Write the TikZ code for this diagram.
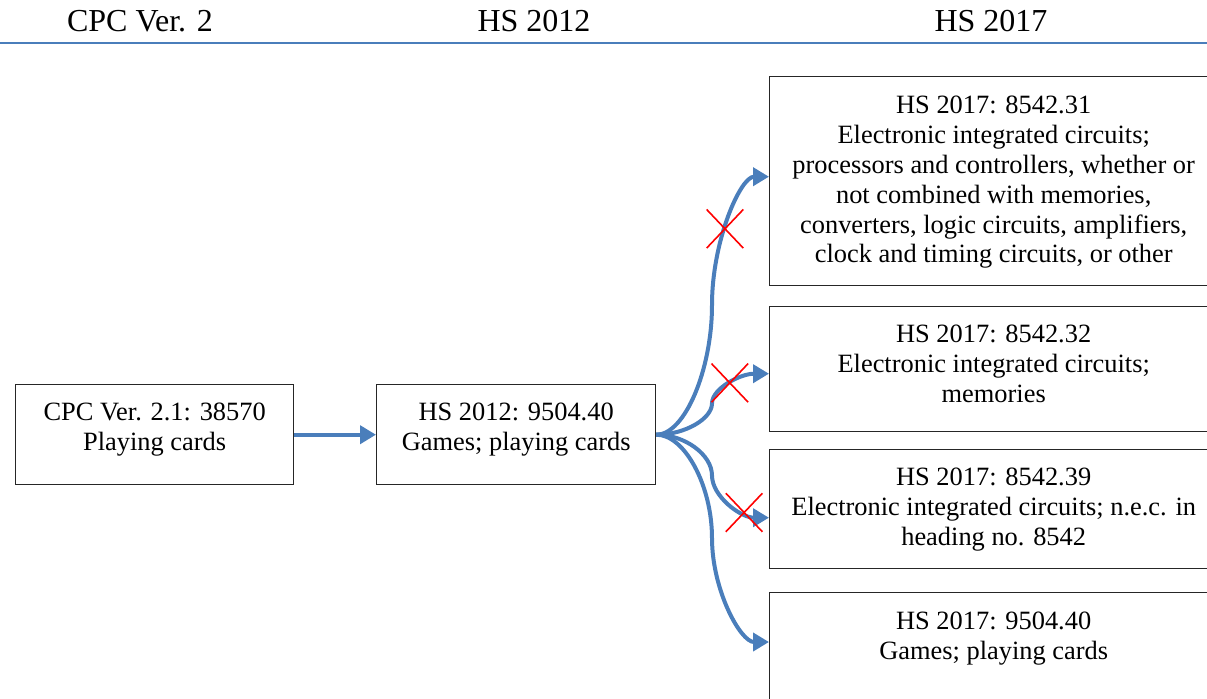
\documentclass[tikz,border=0pt]{standalone}
\usepackage{fontspec}
\setmainfont{Liberation Serif}
\usetikzlibrary{arrows.meta}
\usetikzlibrary{positioning}
\usetikzlibrary{shapes.misc}
\definecolor{lineblue}{HTML}{4A7EBB}
\tikzset{
    codebox/.style={draw=black!85, line width=0.7pt, anchor=north west, inner sep=0pt},
    boxtext/.style={font=\fontsize{13.2}{14.9}\selectfont, align=center, inner sep=0pt},
    headtext/.style={font=\fontsize{16}{18}\selectfont, inner sep=0pt},
    flow/.style={draw=lineblue, line width=2pt, -{Triangle[length=8pt, width=9pt]}},
    nomatch/.style={cross out, draw=red, line width=0.8pt, minimum width=17.5pt, minimum height=18.5pt, inner sep=0pt}
}

\begin{document}
\begin{tikzpicture}[x=0.5pt, y=-0.5pt]
    \useasboundingbox (0,0) rectangle (1207,698);

    % Globals
    \pgfmathsetmacro{\leftX}{15}
    \pgfmathsetmacro{\midX}{376}
    \pgfmathsetmacro{\rightX}{769}
    \pgfmathsetmacro{\rowY}{384}
    \pgfmathsetmacro{\forkX}{712}
    \pgfmathsetmacro{\bendX}{(\rightX-655)/4}

    % Header
    \node[headtext] (H_CPC) at (140,21) {CPC Ver. 2};
    \node[headtext] (H_HS12) at (534,21) {HS 2012};
    \node[headtext] (H_HS17) at (991,21) {HS 2017};
    \coordinate (RULE_W) at (0,43);
    \coordinate (RULE_E) at (1207,43);
    \draw[color=lineblue, line width=1pt] (RULE_W) -- (RULE_E);

    % CPC and HS 2012
    \node[codebox, minimum width=139pt, minimum height=50pt] (CPC) at (\leftX,\rowY) {};
    \node[boxtext, below=9.5pt of CPC.north] (CPC_T) {CPC Ver. 2.1: 38570\\Playing cards};

    \node[codebox, minimum width=139.5pt, minimum height=50pt] (HS12) at (\midX,\rowY) {};
    \node[boxtext, below=9.5pt of HS12.north] (HS12_T) {HS 2012: 9504.40\\Games; playing cards};

    % HS 2017
    \node[codebox, minimum width=224pt, minimum height=104.5pt] (HS17_31) at (\rightX,76) {};
    \node[boxtext, below=10pt of HS17_31.north] (HS17_31_T) {HS 2017: 8542.31\\Electronic integrated circuits;\\processors and controllers, whether or\\not combined with memories,\\converters, logic circuits, amplifiers,\\clock and timing circuits, or other};

    \node[codebox, minimum width=224pt, minimum height=62.5pt] (HS17_32) at (\rightX,306) {};
    \node[boxtext, below=9.5pt of HS17_32.north] (HS17_32_T) {HS 2017: 8542.32\\Electronic integrated circuits;\\memories};

    \node[codebox, minimum width=224pt, minimum height=59.5pt] (HS17_39) at (\rightX,449) {};
    \node[boxtext, below=9.5pt of HS17_39.north] (HS17_39_T) {HS 2017: 8542.39\\Electronic integrated circuits; n.e.c. in\\heading no. 8542};

    \node[codebox, minimum width=224pt, minimum height=75pt] (HS17_40) at (\rightX,592) {};
    \node[boxtext, below=10pt of HS17_40.north] (HS17_40_T) {HS 2017: 9504.40\\Games; playing cards};

    % Links
    \draw[flow] (CPC.east) -- (HS12.west);

    \coordinate (MID_31) at (\forkX,305);
    \draw[flow] (HS12.east) .. controls +(\bendX,0) and +(0,64.5) .. (MID_31)
        .. controls +(0,-64.5) and +(-\bendX,0) .. ([yshift=2.25pt]HS17_31.west) node[nomatch, pos=0.42] (X_31) {};

    \coordinate (MID_32) at (\forkX,403.5);
    \draw[flow] (HS12.east) .. controls +(\bendX,0) and +(0,15.25) .. (MID_32)
        .. controls +(0,-15.25) and +(-\bendX,0) .. ([yshift=-2.25pt]HS17_32.west) node[nomatch, pos=0.5] (X_32) {};

    \coordinate (MID_39) at (\forkX,475.5);
    \draw[flow] (HS12.east) .. controls +(\bendX,0) and +(0,-20.75) .. (MID_39)
        .. controls +(0,20.75) and +(-\bendX,0) .. ([yshift=-4.25pt]HS17_39.west) node[nomatch, pos=0.7] (X_39) {};

    \coordinate (MID_40) at (\forkX,538);
    \draw[flow] (HS12.east) .. controls +(\bendX,0) and +(0,-52) .. (MID_40)
        .. controls +(0,52) and +(-\bendX,0) .. ([yshift=-25pt]HS17_40.north west);

\end{tikzpicture}
\end{document}
